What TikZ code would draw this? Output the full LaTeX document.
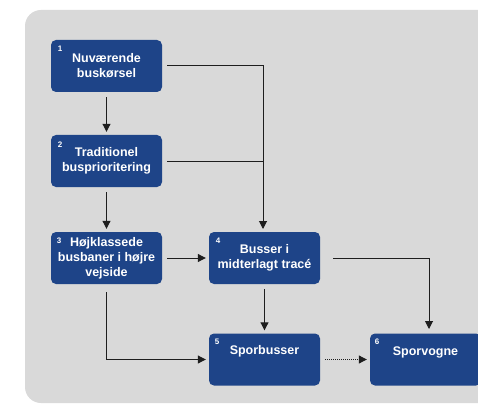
\documentclass[tikz,border=0pt]{standalone}
\usepackage{fontspec}
\setmainfont{Liberation Sans}
\usetikzlibrary{arrows.meta}
\definecolor{panelgray}{RGB}{217,217,217}
\definecolor{boxblue}{RGB}{30,68,136}
\definecolor{linegray}{RGB}{30,30,30}
\begin{document}
\begin{tikzpicture}[x=1pt,y=-1pt,
  stepbox/.style={rectangle, rounded corners=5pt, fill=boxblue, text=white,
    minimum width=111pt, minimum height=52pt, inner sep=0pt, align=center,
    font=\fontsize{12.5}{15}\selectfont\bfseries},
  num/.style={text=white, inner sep=0pt, font=\fontsize{8}{9}\selectfont\bfseries},
  link/.style={draw=linegray, line width=1pt, -{Triangle[length=8pt,width=8pt]},
    shorten <=5pt, shorten >=3pt},
  plain/.style={draw=linegray, line width=1pt, shorten <=5pt}]
\useasboundingbox (0,0) rectangle (478,406);
% grey panel
\fill[panelgray, rounded corners=16pt] (25,10) rectangle (500,403);
% boxes
\node[stepbox] (b1) at (106.5,66) {Nuværende\\buskørsel};
\node[stepbox] (b2) at (106.5,161) {Traditionel\\busprioritering};
\node[stepbox] (b3) at (106.5,258) {Højklassede\\busbaner i højre\\vejside};
\node[stepbox] (b4) at (264.5,258) {Busser i\\midterlagt tracé};
\node[stepbox] (b5) at (264.5,359.5) {Sporbusser\\[4pt]};
\node[stepbox] (b6) at (425.5,359.5) {Sporvogne\\[2pt]};
% step numbers
\node[num] (n1) at (60,49) {1};
\node[num] (n2) at (60,145) {2};
\node[num] (n3) at (59,241) {3};
\node[num] (n4) at (218,241) {4};
\node[num] (n5) at (217,342) {5};
\node[num] (n6) at (377,342) {6};
% connectors
\coordinate (j4) at (263,232);
\coordinate (j6) at (429,332);
\draw[link] (b1.south) -- (b2.north);
\draw[link] (b2.south) -- (b3.north);
\draw[link] (b1.east) -| (j4);
\draw[plain] (b2.east) -- (b2.east -| j4);
\draw[link] (b3.east) -- (b4.west);
\draw[link] (b4.south) -- (b5.north);
\draw[link, shorten <=13pt] (b4.east) -| (j6);
\draw[link, shorten <=8pt] (b3.south) |- (b5.west);
\draw[link, dash pattern=on 1pt off 1pt] (b5.east) -- (b6.west);
\end{tikzpicture}
\end{document}
